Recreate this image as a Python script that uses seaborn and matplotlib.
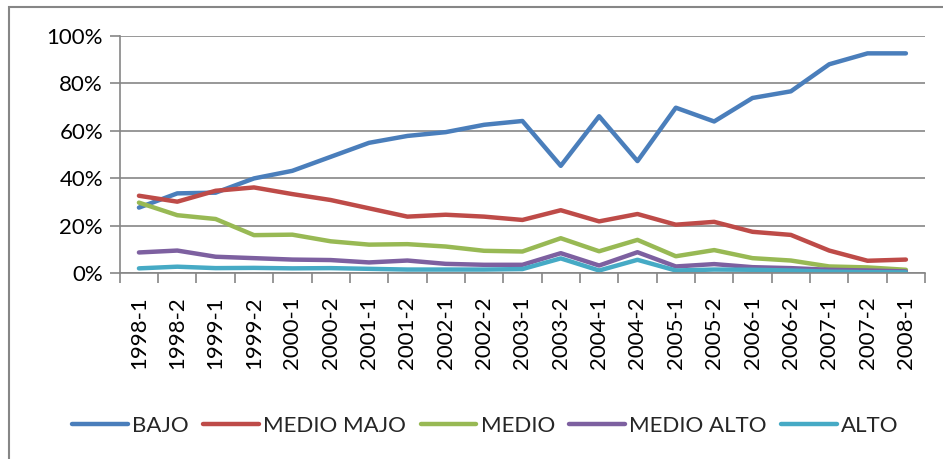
import pandas as pd
import matplotlib.pyplot as plt
import matplotlib.patches as patches
from matplotlib.ticker import PercentFormatter, FixedLocator
import seaborn as sns

periods = ['1998-1', '1998-2', '1999-1', '1999-2', '2000-1', '2000-2', '2001-1',
           '2001-2', '2002-1', '2002-2', '2003-1', '2003-2', '2004-1', '2004-2',
           '2005-1', '2005-2', '2006-1', '2006-2', '2007-1', '2007-2', '2008-1']

bajo = [27.6, 33.6, 33.9, 39.9, 43.1, 49.0, 54.9, 57.8, 59.4, 62.5, 64.1,
        45.2, 66.1, 47.2, 69.7, 63.9, 73.8, 76.6, 88.0, 92.6, 92.6]
medio_majo = [32.6, 30.1, 34.7, 36.1, 33.3, 30.8, 27.3, 23.8, 24.6, 23.8, 22.4,
              26.5, 21.8, 24.9, 20.4, 21.6, 17.4, 16.1, 9.5, 5.2, 5.7]
medio = [29.7, 24.4, 22.8, 16.0, 16.2, 13.4, 12.0, 12.2, 11.2, 9.4, 9.1,
         14.7, 9.2, 14.0, 7.1, 9.7, 6.3, 5.3, 2.8, 2.4, 1.4]
medio_alto = [8.7, 9.5, 6.9, 6.3, 5.7, 5.5, 4.5, 5.3, 3.9, 3.5, 3.5,
              8.4, 3.2, 8.8, 2.8, 3.8, 2.5, 2.1, 1.4, 1.1, 0.7]
alto = [2.0, 2.7, 2.1, 2.2, 2.0, 2.1, 1.8, 1.5, 1.5, 1.5, 1.7,
        6.2, 1.1, 5.6, 1.1, 1.5, 1.4, 1.1, 0.6, 0.4, 0.3]

series_names = ['BAJO', 'MEDIO MAJO', 'MEDIO', 'MEDIO ALTO', 'ALTO']
colors = ['#4A7EBB', '#BE4B48', '#98B954', '#7D60A0', '#46AAC5']

# long-form table for seaborn
frames = []
for name, vals in zip(series_names, [bajo, medio_majo, medio, medio_alto, alto]):
    frames.append(pd.DataFrame({'periodo': periods, 'valor': [v / 100 for v in vals], 'grupo': name}))
df = pd.concat(frames, ignore_index=True)

sns.set_style('white')
plt.rcParams['font.family'] = ['Lato', 'DejaVu Sans']

fig = plt.figure(figsize=(9.43, 4.59), dpi=100)
ax = fig.add_axes([0.127, 0.405, 0.854, 0.517])

sns.lineplot(data=df, x='periodo', y='valor', hue='grupo', palette=colors,
             hue_order=series_names, sort=False, linewidth=3.2, ax=ax,
             solid_capstyle='round', solid_joinstyle='round')

grid_gray = '#868686'
fs = 16
ax.set_ylim(0, 1)
ax.set_xlim(-0.5, len(periods) - 0.5)
ax.yaxis.set_major_locator(FixedLocator([0, 0.2, 0.4, 0.6, 0.8, 1.0]))
ax.yaxis.set_major_formatter(PercentFormatter(1.0, decimals=0))
ax.grid(axis='y', color=grid_gray, linewidth=1.2)
ax.set_axisbelow(True)

ax.set_xticks(range(len(periods)))
ax.set_xticklabels(periods, rotation=90)
ax.set_xticks([i - 0.5 for i in range(len(periods) + 1)], minor=True)
ax.tick_params(axis='x', which='major', length=0, pad=17, labelsize=fs, labelcolor='black')
ax.tick_params(axis='x', which='minor', length=7, width=1.2, color=grid_gray, direction='out', bottom=True)
ax.tick_params(axis='y', which='major', length=7, width=1.2, color=grid_gray, direction='out', left=True,
               labelsize=fs, labelcolor='black', pad=5)

for side in ['top', 'right']:
    ax.spines[side].set_visible(False)
for side in ['left', 'bottom']:
    ax.spines[side].set_color(grid_gray)
    ax.spines[side].set_linewidth(1.2)

ax.set_xlabel('')
ax.set_ylabel('')

leg = ax.legend(loc='center', bbox_to_anchor=(0.515, 0.072), bbox_transform=fig.transFigure,
                ncol=5, frameon=False, fontsize=fs, handlelength=2.5, handletextpad=0.2,
                columnspacing=0.65)
for line in leg.get_lines():
    line.set_linewidth(3.2)

# outer chart frame
fig.patches.append(patches.Rectangle((9 / 943, -0.1), 1.2, 1 - 7 / 459 + 0.1,
                                     transform=fig.transFigure, fill=False,
                                     edgecolor=grid_gray, linewidth=1.5))

fig.savefig('out.png', dpi=100)
